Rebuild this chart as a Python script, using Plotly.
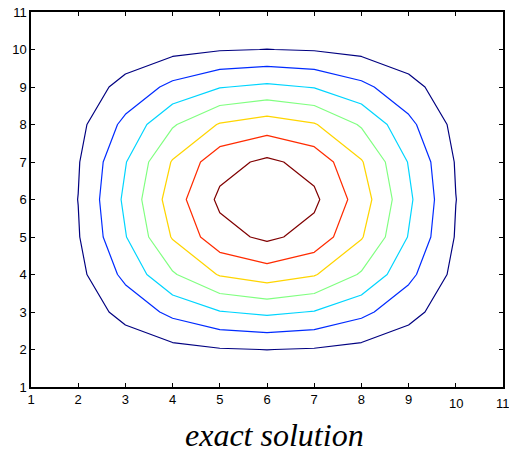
import plotly.graph_objects as go

# Grid coordinates (11 x 11 nodes)
x_nodes = [1, 2, 3, 4, 5, 6, 7, 8, 9, 10, 11]
y_nodes = [1, 2, 3, 4, 5, 6, 7, 8, 9, 10, 11]

# Exact solution sampled on the grid (rows follow y_nodes)
row_y1 = [0, 0, 0, 0, 0, 0, 0, 0, 0, 0, 0]
row_y2 = [0, 0.0168, 0.0531, 0.0914, 0.1194, 0.1296, 0.1194, 0.0914, 0.0531, 0.0168, 0]
row_y3 = [0, 0.0531, 0.1678, 0.2890, 0.3775, 0.4096, 0.3775, 0.2890, 0.1678, 0.0531, 0]
row_y4 = [0, 0.0914, 0.2890, 0.4979, 0.6503, 0.7056, 0.6503, 0.4979, 0.2890, 0.0914, 0]
row_y5 = [0, 0.1194, 0.3775, 0.6503, 0.8493, 0.9216, 0.8493, 0.6503, 0.3775, 0.1194, 0]
row_y6 = [0, 0.1296, 0.4096, 0.7056, 0.9216, 1.0000, 0.9216, 0.7056, 0.4096, 0.1296, 0]
row_y7 = [0, 0.1194, 0.3775, 0.6503, 0.8493, 0.9216, 0.8493, 0.6503, 0.3775, 0.1194, 0]
row_y8 = [0, 0.0914, 0.2890, 0.4979, 0.6503, 0.7056, 0.6503, 0.4979, 0.2890, 0.0914, 0]
row_y9 = [0, 0.0531, 0.1678, 0.2890, 0.3775, 0.4096, 0.3775, 0.2890, 0.1678, 0.0531, 0]
row_y10 = [0, 0.0168, 0.0531, 0.0914, 0.1194, 0.1296, 0.1194, 0.0914, 0.0531, 0.0168, 0]
row_y11 = [0, 0, 0, 0, 0, 0, 0, 0, 0, 0, 0]

z_grid = [row_y1, row_y2, row_y3, row_y4, row_y5, row_y6,
          row_y7, row_y8, row_y9, row_y10, row_y11]

# Contour levels and their jet colours
level_start = 0.128
level_step = 0.128
level_end = 0.896
jet_colors = ["#000080", "#002bff", "#00d5ff", "#80ff80",
              "#ffd500", "#ff2b00", "#800000"]

x_ticks = [1, 2, 3, 4, 5, 6, 7, 8, 9]
x_ticks_low = [10, 11]
y_ticks = [1, 2, 3, 4, 5, 6, 7, 8, 9, 10, 11]

tick_font = dict(family="Liberation Sans, Arial, sans-serif", size=13, color="black")

n = len(jet_colors)
colorscale = [[i / (n - 1), c] for i, c in enumerate(jet_colors)]

fig = go.Figure(go.Contour(
    x=x_nodes, y=y_nodes, z=z_grid,
    contours=dict(coloring="lines", start=level_start, end=level_end,
                  size=level_step, showlabels=False),
    colorscale=colorscale, zmin=level_start, zmax=level_end,
    line=dict(width=1.2, smoothing=0),
    showscale=False, hoverinfo="skip",
))

axis_common = dict(
    showgrid=False, zeroline=False, showline=True, mirror="ticks",
    linecolor="black", linewidth=1.5, ticks="inside", ticklen=4,
    tickcolor="black", tickwidth=1, tickfont=tick_font,
)

fig.update_xaxes(range=[1, 11], tickvals=x_ticks + x_ticks_low,
                 ticktext=[str(v) for v in x_ticks] + ["", ""], **axis_common)
fig.update_yaxes(range=[1, 11], tickvals=y_ticks,
                 ticktext=[str(v) for v in y_ticks], **axis_common)

# The last two x labels sit a little lower than the others
annotations = [
    dict(x=v, y=-0.045, xref="x", yref="paper", text=str(v), showarrow=False,
         xanchor="center", yanchor="middle", font=tick_font)
    for v in x_ticks_low
]
annotations.append(dict(
    x=6.15, y=-0.128, xref="x", yref="paper", text="<i>exact solution</i>",
    showarrow=False, xanchor="center", yanchor="middle",
    font=dict(family="Liberation Serif, Times New Roman, serif", size=32, color="black"),
))

fig.update_layout(
    width=509, height=454,
    margin=dict(l=31, r=4, t=12, b=67),
    paper_bgcolor="white", plot_bgcolor="white",
    annotations=annotations,
    showlegend=False,
)

fig.write_html("out.html")
